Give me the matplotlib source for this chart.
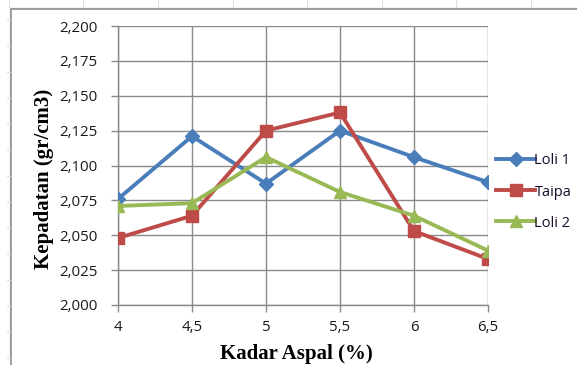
import matplotlib
matplotlib.use("Agg")
import matplotlib.pyplot as plt
from matplotlib.patches import Rectangle
from matplotlib.lines import Line2D

# Asphalt content (%) and measured density (gr/cm3)
x_labels = ["4", "4,5", "5", "5,5", "6", "6,5"]
x_vals = [4.0, 4.5, 5.0, 5.5, 6.0, 6.5]
loli1 = [2.076, 2.121, 2.087, 2.125, 2.106, 2.088]
taipa = [2.048, 2.064, 2.125, 2.138, 2.053, 2.033]
loli2 = [2.071, 2.073, 2.106, 2.081, 2.064, 2.039]
y_ticks = [2.000, 2.025, 2.050, 2.075, 2.100, 2.125, 2.150, 2.175, 2.200]
y_tick_labels = ["2,000", "2,025", "2,050", "2,075", "2,100", "2,125", "2,150", "2,175", "2,200"]

series = [
    ("Loli 1", loli1, "#4A7EBB", "D", 7.5),
    ("Taipa", taipa, "#BE4B48", "s", 8.5),
    ("Loli 2", loli2, "#98B954", "^", 9),
]

W, H = 577, 365
fig = plt.figure(figsize=(W / 100, H / 100), dpi=100)
fig.patch.set_facecolor("white")

# faint sheet grid ticks around the chart frame
for gx in [9, 83, 158, 233, 307, 382, 456, 531]:
    fig.add_artist(Line2D([gx / W, gx / W], [1 - 7 / H, 1.0], color="#e0e0e0", lw=0.8))
for gy in range(20, 365, 26):
    fig.add_artist(Line2D([7 / W, 10 / W], [1 - gy / H, 1 - gy / H], color="#e0e0e0", lw=0.8))

# chart frame with soft shadow
fig.add_artist(Rectangle((9.8 / W, -0.05), 1.2, 1 - 7.8 / H + 0.05, transform=fig.transFigure,
                         fill=False, edgecolor="#d0d0d0", lw=1.0))
fig.add_artist(Rectangle((11 / W, -0.05), 1.2, 1 - 9 / H + 0.05, transform=fig.transFigure,
                         fill=False, edgecolor="#8c8c8c", lw=1.1))

ax = fig.add_axes([118 / W, 1 - 305 / H, (488 - 118) / W, (305 - 26) / H])
ax.set_facecolor("none")

for name, vals, col, mk, ms in series:
    ax.plot(x_vals, vals, color=col, lw=2.8, marker=mk, markersize=ms,
            markerfacecolor=col, markeredgecolor=col, label=name, zorder=3)

ax.set_xlim(4.0, 6.5)
ax.set_ylim(2.000, 2.200)
ax.set_xticks(x_vals)
ax.set_xticklabels(x_labels)
ax.set_yticks(y_ticks)
ax.set_yticklabels(y_tick_labels)

ax.grid(True, color="#8a8a8a", lw=1.0, zorder=0)
for s in ["top", "right"]:
    ax.spines[s].set_visible(False)
for s in ["left", "bottom"]:
    ax.spines[s].set_color("#8a8a8a")
    ax.spines[s].set_linewidth(1.0)

ax.tick_params(axis="both", direction="out", length=5, width=1.0, color="#8a8a8a",
               labelsize=10.8, labelcolor="#1a1a1a")
ax.tick_params(axis="x", pad=6)
ax.tick_params(axis="y", pad=10)
for lab in ax.get_xticklabels() + ax.get_yticklabels():
    lab.set_fontfamily("Open Sans")

fig.text(296 / W, 1 - 354 / H, "Kadar Aspal (%)", fontfamily="Liberation Serif",
         fontweight="bold", fontsize=15, ha="center", va="center")
fig.text(44 / W, 1 - 179 / H, "Kepadatan (gr/cm3)", fontfamily="Liberation Serif",
         fontweight="bold", fontsize=15, ha="center", va="center", rotation=90)

leg = ax.legend(loc="center left", bbox_to_anchor=(490 / W, 1 - 192 / H),
                bbox_transform=fig.transFigure, frameon=False,
                prop={"family": "Open Sans", "size": 10.5},
                handlelength=2.7, handletextpad=-0.05, labelspacing=1.1, borderaxespad=0)
for t in leg.get_texts():
    t.set_color("#1a0a2a")

fig.savefig("out.png", dpi=100)
